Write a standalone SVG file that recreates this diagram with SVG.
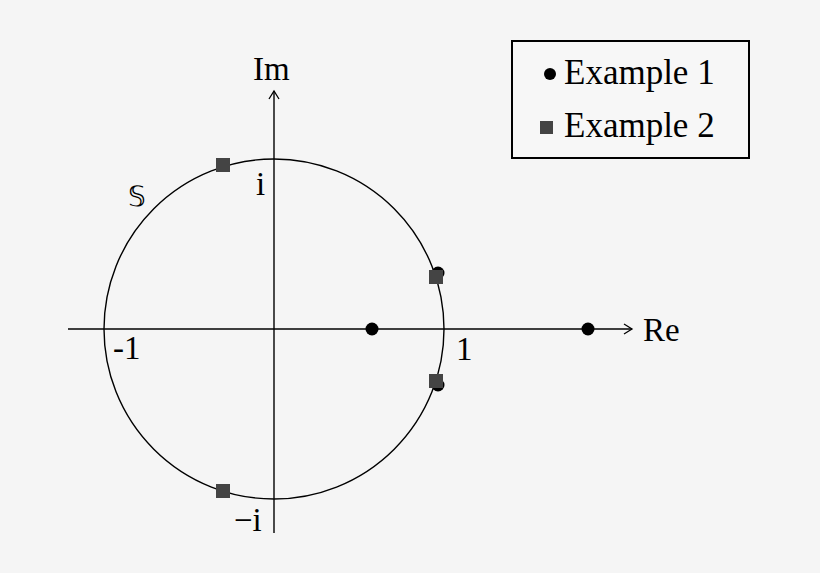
<svg xmlns="http://www.w3.org/2000/svg" width="820" height="573" viewBox="0 0 820 573">
<style>
text{font-family:"Liberation Serif",serif;fill:#000}
.ln{stroke:#000;stroke-width:1.4;fill:none}
.sq{fill:#444}
</style>
<defs><marker id="ar" markerWidth="12" markerHeight="12" refX="10" refY="6" orient="auto" markerUnits="userSpaceOnUse"><path d="M2,1 L10,6 L2,11" fill="none" stroke="#000" stroke-width="1.3"/></marker></defs>
<rect width="820" height="573" fill="#f5f5f5"/>
<g id="connectors">
<line class="ln" x1="68" y1="329" x2="632" y2="329" marker-end="url(#ar)"/>
<line class="ln" x1="274" y1="533" x2="274" y2="91" marker-end="url(#ar)"/>
</g>
<g id="circle"><circle class="ln" cx="274" cy="329" r="170"/></g>
<g id="labels" font-size="33">
<text x="253" y="80">Im</text>
<text x="643" y="341">Re</text>
<text x="256" y="195">i</text>
<text x="234" y="531">−i</text>
<text x="113" y="359">-1</text>
<text x="456" y="360">1</text>
<text x="128" y="206" font-family="DejaVu Sans" font-size="28">𝕊</text>
</g>
<g id="points">
<circle cx="372" cy="329" r="6.5"/>
<circle cx="588" cy="329" r="6.5"/>
<circle cx="438" cy="273" r="6.5"/>
<circle cx="438" cy="385" r="6.5"/>
<rect class="sq" x="429" y="270" width="14" height="14"/>
<rect class="sq" x="429" y="374" width="14" height="14"/>
<rect class="sq" x="216" y="158" width="14" height="14"/>
<rect class="sq" x="216" y="484" width="14" height="14"/>
</g>
<g id="legend">
<rect x="512" y="41" width="237" height="117" fill="#f7f7f7" stroke="#000" stroke-width="2"/>
<circle cx="550" cy="74" r="6"/>
<rect class="sq" x="540" y="121" width="13" height="13"/>
<text x="564" y="84" font-size="35">Example 1</text>
<text x="564" y="137" font-size="35">Example 2</text>
</g>
</svg>
